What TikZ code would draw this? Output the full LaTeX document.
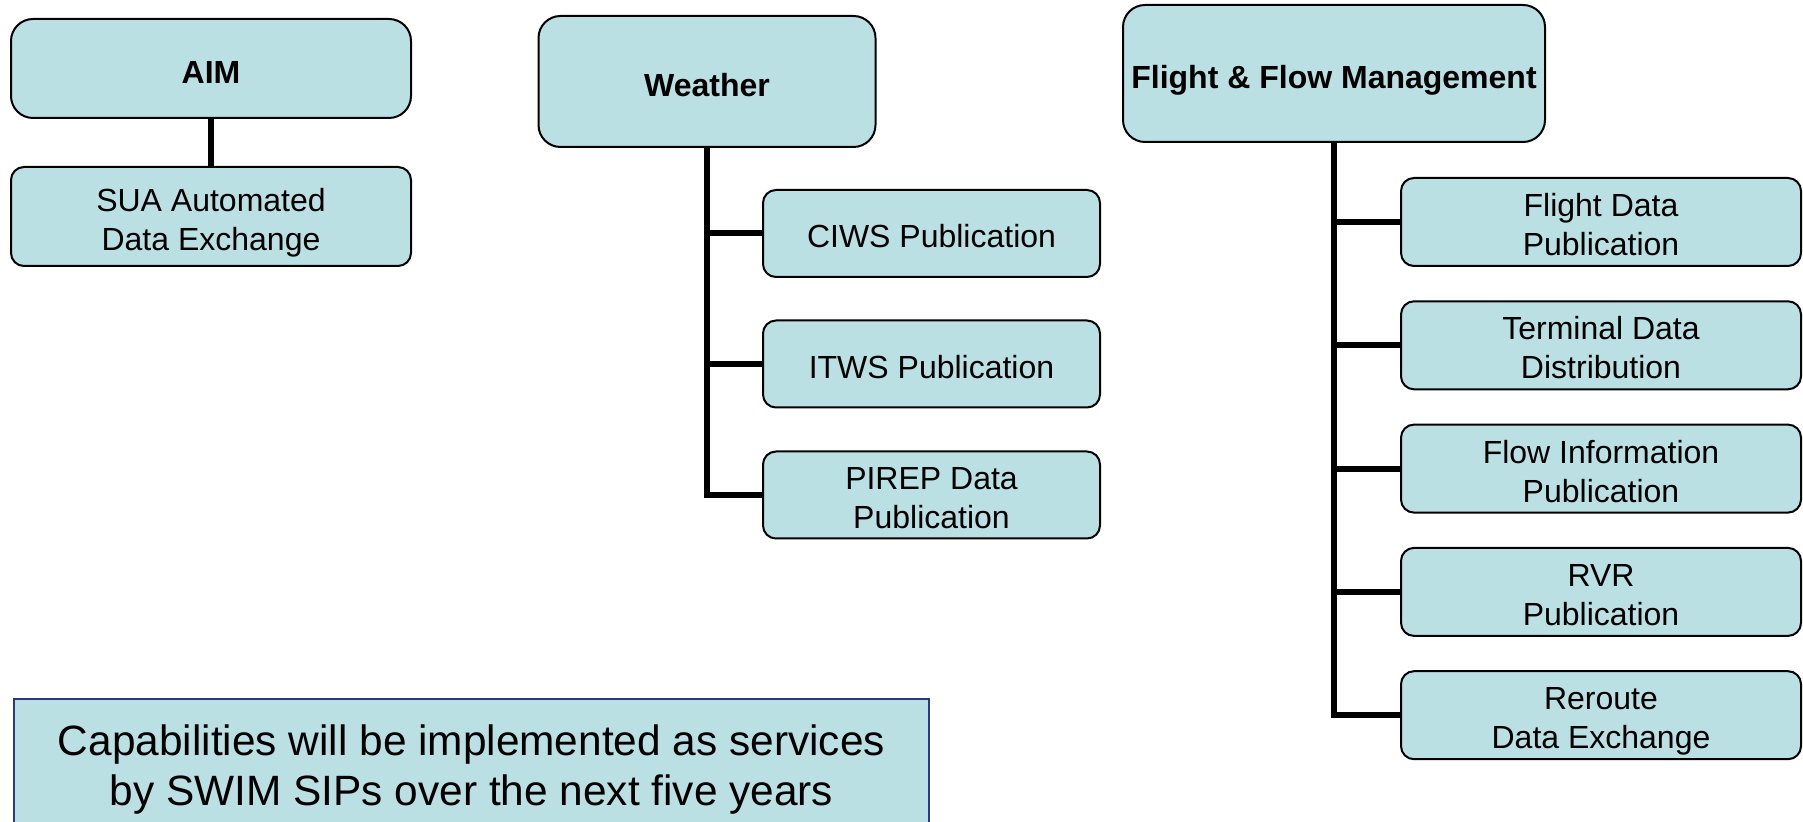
\documentclass[tikz,border=0pt]{standalone}
\usepackage{fontspec}
\setmainfont{Liberation Sans}
\definecolor{boxfill}{RGB}{186,224,228}
\definecolor{noteline}{RGB}{45,55,135}
\newcommand\gapup[1]{\rule{0pt}{#1}}
\begin{document}
\begin{tikzpicture}[x=0.5pt,y=-0.5pt,
  box/.style={draw=black, line width=1pt, fill=boxfill, rounded corners=6.5pt,
    inner sep=0pt, align=center, font=\fontsize{16}{19.5}\selectfont},
  head/.style={box, font=\fontsize{16}{19}\selectfont\bfseries, rounded corners=11pt,
    text height=15.5pt, text depth=0pt},
  child/.style={box, minimum width=200pt, minimum height=44pt},
  wchild/.style={box, minimum width=168.5pt, minimum height=43.5pt},
  link/.style={line width=3pt},
  note/.style={draw=noteline, line width=0.8pt, fill=boxfill, inner sep=0pt,
    align=center, font=\fontsize{21.2}{25}\selectfont}]
\clip (0,0) rectangle (1803,822);
\fill[white] (0,0) rectangle (1803,822);

% AIM
\node[head, minimum width=200pt, minimum height=49.5pt] (aim) at (211,68.5) {AIM};
\node[child, minimum height=49.5pt] (sua) at (211,216.5) {\gapup{17.5pt}SUA Automated\\Data Exchange};
\draw[link] (aim) -- (sua);

% Weather
\node[head, minimum width=168.5pt, minimum height=65.5pt] (wea) at (707,81.5) {Weather};
\node[wchild] (ciws) at (931.5,233.5) {\gapup{14.2pt}CIWS Publication};
\node[wchild] (itws) at (931.5,364) {\gapup{14.2pt}ITWS Publication};
\node[wchild] (pirep) at (931.5,495) {\gapup{14.2pt}PIREP Data\\Publication};
\draw[link] (wea.south) |- (pirep.west);
\draw[link] (wea.south |- ciws.west) -- (ciws.west);
\draw[link] (wea.south |- itws.west) -- (itws.west);

% Flight & Flow Management
\node[head, minimum width=211pt, minimum height=68.5pt] (ffm) at (1334,73.5) {Flight \& Flow Management};
\node[child] (fdp) at (1601,222) {\gapup{14.2pt}Flight Data\\Publication};
\node[child] (tdd) at (1601,345.3) {\gapup{14.2pt}Terminal Data\\Distribution};
\node[child] (fip) at (1601,468.6) {\gapup{14.2pt}Flow Information\\Publication};
\node[child] (rvr) at (1601,591.9) {\gapup{14.2pt}RVR\\Publication};
\node[child] (rde) at (1601,715.2) {\gapup{17.5pt}Reroute\\Data Exchange};
\draw[link] (ffm.south) |- (rde.west);
\foreach \c in {fdp,tdd,fip,rvr}
  \draw[link] (ffm.south |- \c.west) -- (\c.west);

% Note
\node[note, minimum width=457.5pt, minimum height=71pt] (note) at (471.5,770)
  {Capabilities will be implemented as services\\by SWIM SIPs over the next five years};
\end{tikzpicture}
\end{document}
